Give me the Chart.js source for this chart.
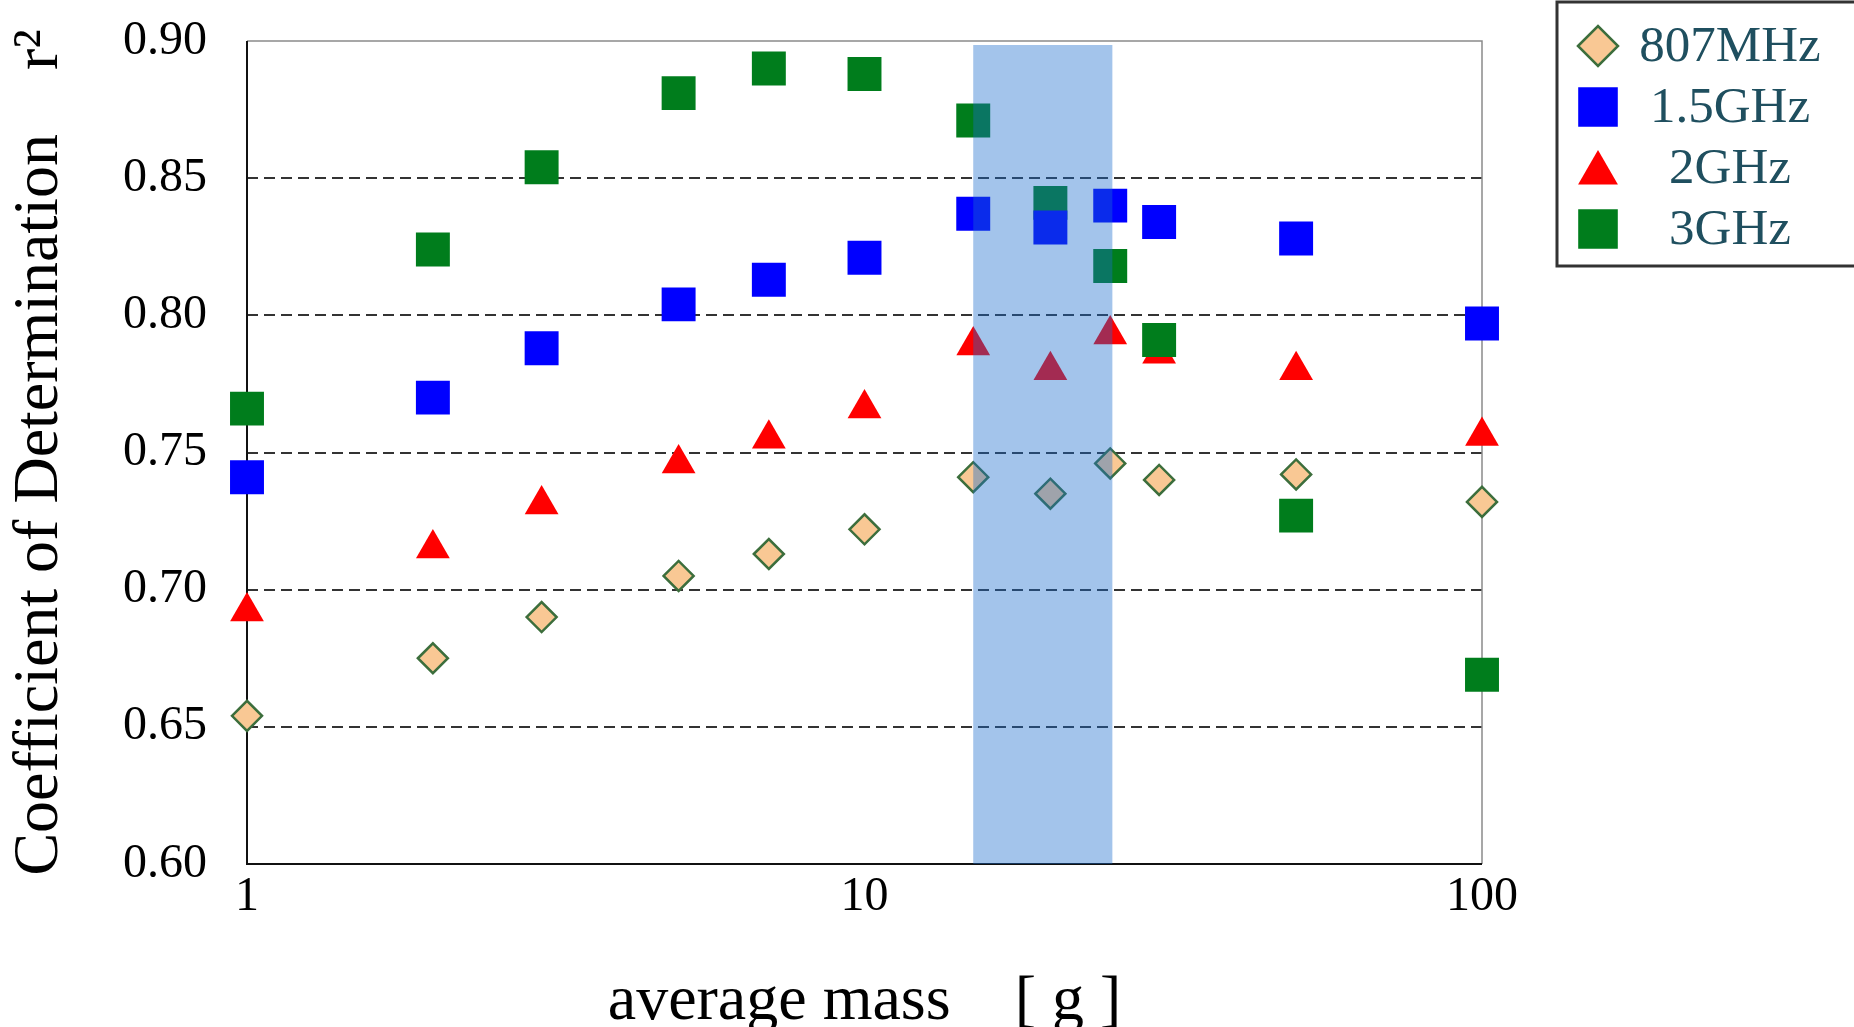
<!DOCTYPE html>
<html>
<head>
<meta charset="utf-8">
<script src="https://cdn.jsdelivr.net/npm/chart.js@4/dist/chart.umd.min.js"></script>
<style>
  html, body { margin: 0; padding: 0; background: #ffffff; }
  #wrap { width: 1854px; height: 1027px; }
</style>
</head>
<body>
<div id="wrap"><canvas id="c" width="1854" height="1027"></canvas></div>
<script>
// ---- data ----
const masses = [1, 2, 3, 5, 7, 10, 15, 20, 25, 30, 50, 100];
const r2_807MHz = [0.654, 0.675, 0.690, 0.705, 0.713, 0.722, 0.741, 0.735, 0.746, 0.740, 0.742, 0.732];
const r2_1_5GHz = [0.741, 0.770, 0.788, 0.804, 0.813, 0.821, 0.837, 0.832, 0.840, 0.834, 0.828, 0.797];
const r2_2GHz   = [0.692, 0.715, 0.731, 0.746, 0.755, 0.766, 0.789, 0.780, 0.793, 0.786, 0.780, 0.756];
const r2_3GHz   = [0.766, 0.824, 0.854, 0.881, 0.890, 0.888, 0.871, 0.841, 0.818, 0.791, 0.727, 0.669];
const seriesNames = ['807MHz', '1.5GHz', '2GHz', '3GHz'];
const xTickValues = [1, 10, 100];
const yTickValues = [0.60, 0.65, 0.70, 0.75, 0.80, 0.85, 0.90];
const bandRange = [15, 25.2];
const xTitle = 'average mass    [ g ]';
const yTitle = 'Coefficient of Determination    r\u00B2';

const pts = arr => masses.map((m, i) => ({ x: m, y: arr[i] }));
const SERIF = "'Liberation Serif', 'Times New Roman', serif";

const datasets = [
  { label: seriesNames[0], data: pts(r2_807MHz), pointStyle: 'rectRot', pointRadius: 15, pointHoverRadius: 15,
    backgroundColor: '#F9C894', borderColor: '#3C6E3C', pointBorderWidth: 2.5, order: 0, clip: false,
    legendRadius: 20 },
  { label: seriesNames[1], data: pts(r2_1_5GHz), pointStyle: 'rect', pointRadius: 24, pointHoverRadius: 24,
    backgroundColor: '#0000FF', borderColor: '#0000FF', pointBorderWidth: 0, order: 1, clip: false,
    legendRadius: 28 },
  { label: seriesNames[2], data: pts(r2_2GHz), pointStyle: 'triangle', pointRadius: 19.5, pointHoverRadius: 19.5,
    backgroundColor: '#FF0000', borderColor: '#FF0000', pointBorderWidth: 0, order: 3, clip: false,
    legendRadius: 23 },
  { label: seriesNames[3], data: pts(r2_3GHz), pointStyle: 'rect', pointRadius: 24, pointHoverRadius: 24,
    backgroundColor: '#007D1C', borderColor: '#007D1C', pointBorderWidth: 0, order: 2, clip: false,
    legendRadius: 28 }
];

const framePlugin = {
  id: 'frame',
  beforeDraw(chart) {
    const { ctx } = chart;
    ctx.save();
    ctx.fillStyle = '#ffffff';
    ctx.fillRect(0, 0, chart.width, chart.height);
    ctx.restore();
  },
  beforeDatasetsDraw(chart) {
    const { ctx, chartArea: a } = chart;
    ctx.save();
    ctx.setLineDash([]);
    ctx.strokeStyle = '#8a8a8a';
    ctx.lineWidth = 1.5;
    ctx.beginPath();
    ctx.moveTo(a.left, a.top); ctx.lineTo(a.right, a.top); ctx.lineTo(a.right, a.bottom);
    ctx.stroke();
    ctx.strokeStyle = '#111111';
    ctx.lineWidth = 2;
    ctx.beginPath();
    ctx.moveTo(a.left, a.top); ctx.lineTo(a.left, a.bottom); ctx.lineTo(a.right, a.bottom);
    ctx.stroke();
    ctx.restore();
  }
};

const bandPlugin = {
  id: 'band',
  afterDatasetsDraw(chart) {
    const { ctx, chartArea: a, scales: { x } } = chart;
    const x0 = x.getPixelForValue(bandRange[0]);
    const x1 = x.getPixelForValue(bandRange[1]);
    ctx.save();
    ctx.fillStyle = 'rgba(25, 108, 205, 0.40)';
    ctx.fillRect(x0, a.top + 4, x1 - x0, a.bottom - a.top - 4);
    ctx.restore();
  }
};

const legendPlugin = {
  id: 'customLegend',
  afterDraw(chart) {
    const { ctx } = chart;
    const boxL = 1557, boxT = 2, boxW = 400, boxH = 264;
    ctx.save();
    ctx.fillStyle = '#ffffff';
    ctx.fillRect(boxL, boxT, boxW, boxH);
    ctx.strokeStyle = '#333333';
    ctx.lineWidth = 3;
    ctx.strokeRect(boxL, boxT, boxW, boxH);
    const markerX = 1598, textX = 1730, rowY0 = 46, rowStep = 61;
    chart.data.datasets.forEach((ds, i) => {
      const cy = rowY0 + i * rowStep + (ds.pointStyle === 'triangle' ? 5 : 0);
      ctx.fillStyle = ds.backgroundColor;
      ctx.strokeStyle = ds.borderColor;
      ctx.lineWidth = ds.pointBorderWidth;
      Chart.helpers.drawPoint(ctx, {
        pointStyle: ds.pointStyle, radius: ds.legendRadius, rotation: 0, borderWidth: ds.pointBorderWidth
      }, markerX, cy);
      ctx.fillStyle = '#1F4F5F';
      ctx.font = '51px ' + SERIF;
      ctx.textAlign = 'center';
      ctx.textBaseline = 'middle';
      ctx.fillText(ds.label, textX, rowY0 + i * rowStep + 2);
    });
    ctx.restore();
  }
};

new Chart(document.getElementById('c'), {
  type: 'scatter',
  data: { datasets },
  plugins: [framePlugin, bandPlugin, legendPlugin],
  options: {
    responsive: false,
    devicePixelRatio: 1,
    animation: false,
    events: [],
    layout: { autoPadding: false, padding: { left: 0, top: 41, right: 372, bottom: 0 } },
    plugins: { legend: { display: false }, tooltip: { enabled: false } },
    elements: { point: { borderWidth: 0 } },
    scales: {
      x: {
        type: 'logarithmic',
        min: 1, max: 100,
        afterFit(s) { s.height = 163; s.paddingLeft = 0; s.paddingRight = 0; },
        afterBuildTicks(s) { s.ticks = xTickValues.map(v => ({ value: v })); },
        grid: { display: false, drawTicks: false },
        border: { display: false },
        ticks: {
          autoSkip: false, maxRotation: 0, padding: 5, color: '#000',
          font: { family: SERIF, size: 48 },
          callback: v => String(v)
        },
        title: {
          display: true, text: xTitle, color: '#000',
          font: { family: SERIF, size: 64 }, padding: { top: 0, bottom: -14 }
        }
      },
      y: {
        type: 'linear',
        min: 0.6, max: 0.9,
        afterFit(s) { s.width = 247; s.paddingTop = 0; s.paddingBottom = 0; },
        afterBuildTicks(s) { s.ticks = yTickValues.map(v => ({ value: v })); },
        grid: {
          drawTicks: false, lineWidth: 2,
          color: c => (c.tick && c.tick.value > 0.61 && c.tick.value < 0.89) ? '#333333' : 'rgba(0,0,0,0)'
        },
        border: { display: false, dash: [11, 6] },
        ticks: {
          padding: 40, color: '#000',
          font: { family: SERIF, size: 48 },
          callback: v => Number(v).toFixed(2)
        },
        title: {
          display: true, text: yTitle, color: '#000',
          font: { family: SERIF, size: 64 }, padding: { top: 2, bottom: 0 }
        }
      }
    }
  }
});
</script>
</body>
</html>
